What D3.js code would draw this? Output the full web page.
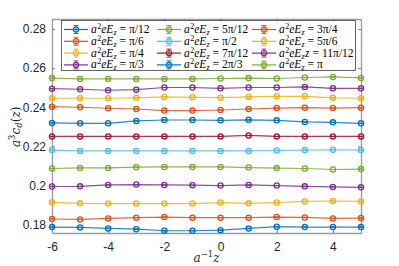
<!DOCTYPE html>
<html><head><meta charset="utf-8">
<script src="https://cdn.jsdelivr.net/npm/d3@7"></script>
<style>body{margin:0;background:#fff}svg{display:block}</style>
</head><body>
<script>
const xValues = [-6,-5,-4,-3,-2,-1,0,1,2,3,4,5];
const labels = ["\u03c0/12","\u03c0/6","\u03c0/4","\u03c0/3","5\u03c0/12","\u03c0/2","7\u03c0/12","2\u03c0/3","3\u03c0/4","5\u03c0/6","11\u03c0/12","\u03c0"];
const colors = ["#0072BD","#D95319","#EDB120","#7E2F8E","#77AC30","#4DBEEE","#A2142F","#0072BD","#D95319","#EDB120","#7E2F8E","#77AC30"];
const s1 = [0.1788,0.1786,0.1781,0.1777,0.1769,0.1769,0.1772,0.1781,0.1790,0.1788,0.1788,0.1788];
const s2 = [0.1829,0.1827,0.1832,0.1836,0.1839,0.1836,0.1836,0.1836,0.1839,0.1837,0.1832,0.1834];
const s3 = [0.1914,0.1909,0.1908,0.1908,0.1908,0.1908,0.1913,0.1909,0.1913,0.1919,0.1921,0.1919];
const s4 = [0.1995,0.1996,0.2003,0.2005,0.2003,0.2002,0.2000,0.2003,0.2000,0.1996,0.1993,0.1991];
const s5 = [0.2087,0.2090,0.2090,0.2094,0.2095,0.2095,0.2095,0.2092,0.2089,0.2087,0.2082,0.2084];
const s6 = [0.2181,0.2177,0.2177,0.2177,0.2177,0.2177,0.2177,0.2177,0.2179,0.2181,0.2183,0.2181];
const s7 = [0.2251,0.2251,0.2251,0.2251,0.2251,0.2251,0.2251,0.2256,0.2251,0.2251,0.2251,0.2251];
const s8 = [0.2320,0.2318,0.2318,0.2330,0.2335,0.2335,0.2333,0.2336,0.2333,0.2325,0.2323,0.2318];
const s9 = [0.2403,0.2400,0.2395,0.2391,0.2383,0.2383,0.2386,0.2391,0.2396,0.2398,0.2396,0.2398];
const s10 = [0.2446,0.2446,0.2446,0.2448,0.2453,0.2451,0.2449,0.2453,0.2456,0.2456,0.2448,0.2446];
const s11 = [0.2495,0.2492,0.2487,0.2490,0.2501,0.2501,0.2497,0.2501,0.2501,0.2504,0.2497,0.2497];
const s12 = [0.2549,0.2545,0.2545,0.2545,0.2545,0.2545,0.2547,0.2549,0.2547,0.2552,0.2555,0.2550];
const errs = [0.00015,0.00012,0.00013,0.00004,0.00006,0.00015,0.00004,0.00005,0.00012,0.00014,0.00005,0.00005];
const series = [s1,s2,s3,s4,s5,s6,s7,s8,s9,s10,s11,s12];
const yTicks = [0.18,0.2,0.22,0.24,0.26,0.28];
const yTickLabels = ["0.18","0.2","0.22","0.24","0.26","0.28"];
const xTicks = [-6,-4,-2,0,2,4];

const W=399,H=266;
const m={l:52,r:38,t:19,b:33};
const svg=d3.select("body").append("svg").attr("width",W).attr("height",H);
const x=d3.scaleLinear().domain([-6,5]).range([m.l,W-m.r]);
const y=d3.scaleLinear().domain([0.17575,0.2851]).range([H-m.b,m.t]);
const axisCol="#262626";
const font="Liberation Sans, Arial, sans-serif";
const serif="'Liberation Serif',serif";
const serif2="'DejaVu Serif',serif";

// axes
const gx=svg.append("g").attr("transform",`translate(0,${H-m.b})`)
  .call(d3.axisBottom(x).tickValues(xTicks).tickSizeInner(-3).tickSizeOuter(0).tickPadding(9).tickFormat(d=>d));
const gxt=svg.append("g").attr("transform",`translate(0,${m.t})`)
  .call(d3.axisTop(x).tickValues(xTicks).tickSizeInner(-3).tickSizeOuter(0).tickFormat(""));
const gy=svg.append("g").attr("transform",`translate(${m.l},0)`)
  .call(d3.axisLeft(y).tickValues(yTicks).tickSizeInner(-3).tickSizeOuter(0).tickPadding(6).tickFormat((d,i)=>yTickLabels[i]));
const gyr=svg.append("g").attr("transform",`translate(${W-m.r},0)`)
  .call(d3.axisRight(y).tickValues(yTicks).tickSizeInner(-3).tickSizeOuter(0).tickFormat(""));
[gx,gxt,gy,gyr].forEach(g=>{
  g.selectAll("path.domain").attr("stroke","#9a9a9a").attr("stroke-width",1.3);
  g.selectAll(".tick line").attr("stroke","#555").attr("stroke-width",0.7);
  g.selectAll("text").attr("fill",axisCol).attr("font-family",font).attr("font-size",12);
});

// series
const line=d3.line().x((d,i)=>x(xValues[i])).y(d=>y(d));
series.forEach((s,k)=>{
  const g=svg.append("g");
  g.append("path").datum(s).attr("d",line).attr("fill","none").attr("stroke",colors[k]).attr("stroke-width",1.2).attr("stroke-opacity",0.85);
  s.forEach((v,i)=>{
    const cx=x(xValues[i]);
    const y1=y(v-errs[k]), y2=y(v+errs[k]);
    g.append("line").attr("x1",cx).attr("x2",cx).attr("y1",y1).attr("y2",y2).attr("stroke",colors[k]).attr("stroke-width",0.9);
    [y1,y2].forEach(yy=>g.append("line").attr("x1",cx-2.8).attr("x2",cx+2.8).attr("y1",yy).attr("y2",yy).attr("stroke",colors[k]).attr("stroke-width",0.9));
    g.append("circle").attr("cx",cx).attr("cy",y(v)).attr("r",2.6).attr("fill","none").attr("stroke",colors[k]).attr("stroke-width",1.3);
  });
});

// legend
const lg=svg.append("g");
lg.append("rect").attr("x",61.5).attr("y",20.5).attr("width",294).attr("height",50).attr("fill","#fff").attr("stroke","#262626").attr("stroke-width",0.7);
const colX=[64,157,252];
const rowY=[29.5,41.3,53.1,64.9];
labels.forEach((lab,k)=>{
  const c=Math.floor(k/4), r=k%4;
  const x0=colX[c], yy=rowY[r];
  lg.append("line").attr("x1",x0).attr("x2",x0+24).attr("y1",yy).attr("y2",yy).attr("stroke",colors[k]).attr("stroke-width",1.2);
  lg.append("line").attr("x1",x0+12).attr("x2",x0+12).attr("y1",yy-4).attr("y2",yy+4).attr("stroke",colors[k]).attr("stroke-width",0.9);
  [yy-4,yy+4].forEach(q=>lg.append("line").attr("x1",x0+9.5).attr("x2",x0+14.5).attr("y1",q).attr("y2",q).attr("stroke",colors[k]).attr("stroke-width",0.9));
  lg.append("circle").attr("cx",x0+12).attr("cy",yy).attr("r",2.6).attr("fill","none").attr("stroke",colors[k]).attr("stroke-width",1.2);
  const t=lg.append("text").attr("x",x0+27).attr("y",yy+3.5).attr("font-family",serif).attr("font-size",11.5).attr("fill","#000");
  t.append("tspan").attr("font-style","italic").text("a");
  t.append("tspan").attr("font-size",8).attr("dy",-4).attr("dx",0.5).text("2");
  t.append("tspan").attr("font-style","italic").attr("dy",4).text("eE");
  t.append("tspan").attr("font-style","italic").attr("font-size",8).attr("dy",2).text("z");
  let dy=-2;
  if(k===10){ t.append("tspan").attr("font-style","italic").attr("dy",-2).attr("dx",0.5).text("z"); dy=0; }
  t.append("tspan").attr("dy",dy).attr("dx",3).text("=");
  t.append("tspan").attr("dx",3).text(lab);
});

// axis labels
const xl=svg.append("text").attr("x",(x(-6)+x(5))/2).attr("y",262).attr("text-anchor","middle").attr("font-family",serif2).attr("font-size",12).attr("fill",axisCol);
xl.append("tspan").attr("font-style","italic").text("a");
xl.append("tspan").attr("font-size",8.5).attr("dy",-5).text("\u22121");
xl.append("tspan").attr("font-style","italic").attr("dy",5).text("z");

const yl=svg.append("text").attr("transform",`translate(20,${(y(0.18)+y(0.28))/2}) rotate(-90)`).attr("text-anchor","middle").attr("font-family",serif2).attr("font-size",12).attr("fill",axisCol);
yl.append("tspan").attr("font-style","italic").text("a");
yl.append("tspan").attr("font-size",8.5).attr("dy",-5).text("3");
yl.append("tspan").attr("font-style","italic").attr("dy",5).text("c");
yl.append("tspan").attr("font-style","italic").attr("font-size",8.5).attr("dy",2).text("d");
yl.append("tspan").attr("dy",-2).text("(");
yl.append("tspan").attr("font-style","italic").text("z");
yl.append("tspan").text(")");
</script>
</body></html>
